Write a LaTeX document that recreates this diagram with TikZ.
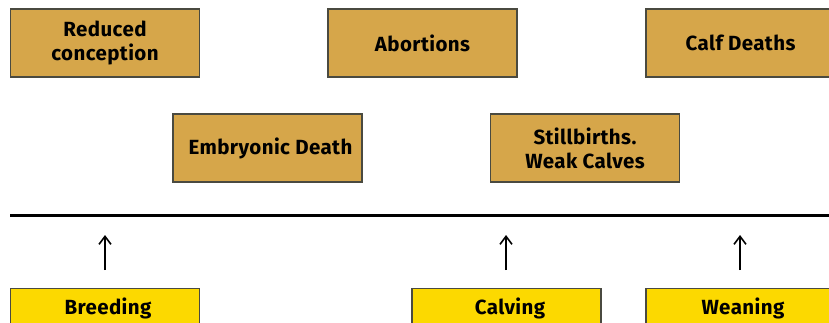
\documentclass[tikz,border=0pt]{standalone}
\usepackage{fontspec}
\setmainfont{Fira Sans}[LetterSpace=2]
\usetikzlibrary{arrows.meta}
\definecolor{ochre}{HTML}{D6A64A}
\definecolor{gold}{HTML}{FCD900}
\definecolor{edge}{HTML}{4A4A40}
\tikzset{
  boxfont/.style={font=\fontsize{20.5}{24}\selectfont\bfseries},
  box/.style={draw=edge, line width=1.2pt, fill=ochre, minimum width=189pt, minimum height=68pt, inner sep=0pt, align=center, boxfont},
  ybox/.style={draw=edge, line width=1.2pt, fill=gold, minimum width=189pt, minimum height=50pt, inner sep=0pt},
  label/.style={inner sep=0pt, boxfont},
  up/.style={-{Straight Barb[length=8pt,width=12pt,line width=1.6pt]}, line width=2pt}
}
\begin{document}
\begin{tikzpicture}[x=1pt,y=-1pt]
\useasboundingbox (0,0) rectangle (829,322);
\node[box] (rc) at (105,43) {Reduced\\conception};
\node[box] (ab) at (422.5,43) {Abortions};
\node[box] (cd) at (740.5,43) {Calf Deaths};
\node[box] (ed) at (267.5,148) {\hspace*{6pt}Embryonic Death};
\node[box] (sb) at (585,148) {Stillbirths.\\Weak Calves};
\coordinate (l1) at (10,215);
\coordinate (l2) at (829,215);
\draw[line width=3pt] (l1) -- (l2);
\node[ybox, anchor=north] (br) at (105,287.5) {};
\node[ybox, anchor=north] (cv) at (506.5,287.5) {};
\node[ybox, anchor=north] (wn) at (740.5,287.5) {};
\node[label, anchor=base] (brt) at (108,314) {Breeding};
\node[label, anchor=base] (cvt) at (510,314) {Calving};
\node[label, anchor=base] (wnt) at (743,314) {Weaning};
\coordinate (a1s) at (105,270); \coordinate (a1e) at (105,235);
\coordinate (a2s) at (506,270); \coordinate (a2e) at (506,235);
\coordinate (a3s) at (740,270); \coordinate (a3e) at (740,235);
\draw[up] (a1s) -- (a1e);
\draw[up] (a2s) -- (a2e);
\draw[up] (a3s) -- (a3e);
\end{tikzpicture}
\end{document}
